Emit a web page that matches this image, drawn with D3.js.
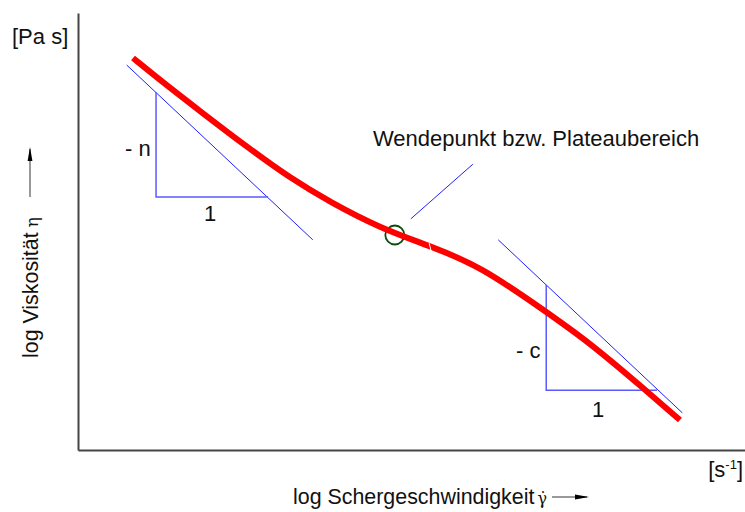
<!DOCTYPE html>
<html><head><meta charset="utf-8">
<script src="https://cdn.jsdelivr.net/npm/d3@7"></script>
<style>
html,body{margin:0;padding:0;background:#fff;}
svg{display:block;}
text{font-family:"Liberation Sans",Arial,Helvetica,sans-serif;fill:#111;}
</style></head>
<body><svg id="c" width="745" height="512"></svg>
<script>
// Curve: log shear rate (x) vs log viscosity (y), arbitrary log units
const logShear = [0.825, 1.304, 1.829, 2.534, 3.178, 3.778, 4.528, 5.277, 6.027, 7.001, 7.676, 8.471, 9.025];
const logVisc  = [8.970, 8.375, 7.757, 6.934, 6.224, 5.675, 5.080, 4.668, 4.211, 3.181, 2.449, 1.419, 0.686];
// Tangent 1 (slope -n) and its triangle
const tan1X = [0.73, 3.52], tan1Y = [8.81, 4.81];
const tri1X = [1.17, 1.17, 2.85], tri1Y = [8.19, 5.79, 5.79];
// Tangent 2 (slope -c) and its triangle
const tan2X = [6.30, 9.06], tan2Y = [4.81, 0.85];
const tri2X = [7.02, 7.02, 8.68], tri2Y = [3.78, 1.37, 1.37];
// Inflection point and annotation leader
const inflX = 4.75, inflY = 4.92;
const leadX = [4.99, 5.92], leadY = [5.29, 6.54];
const gapX = 5.28, gapY = 4.64;

const svg = d3.select("#c");
const x = d3.scaleLinear().domain([0, 10]).range([78, 745]);
const y = d3.scaleLinear().domain([0, 10]).range([450, 13]);
const FS = 22;

// axes
const xAxis = d3.axisBottom(x).tickValues([]).tickSizeOuter(0);
const yAxis = d3.axisLeft(y).tickValues([]).tickSizeOuter(0);
const gx = svg.append("g").attr("transform","translate(0,450)").call(xAxis);
const gy = svg.append("g").attr("transform","translate(78,0)").call(yAxis);
[gx, gy].forEach(g => g.select(".domain").attr("stroke","#444").attr("stroke-width",2));

const line = d3.line().x(d => x(d[0])).y(d => y(d[1]));
const zip = (a, b) => a.map((v, i) => [v, b[i]]);

// tangents
svg.append("path").attr("d", line(zip(tan1X, tan1Y))).attr("stroke","#2020ff").attr("stroke-width",1).attr("fill","none");
svg.append("path").attr("d", line(zip(tan2X, tan2Y))).attr("stroke","#2020ff").attr("stroke-width",1).attr("fill","none");
// triangles
svg.append("path").attr("d", line(zip(tri1X, tri1Y))).attr("stroke","#5a5aff").attr("stroke-width",1.5).attr("fill","none");
svg.append("path").attr("d", line(zip(tri2X, tri2Y))).attr("stroke","#5a5aff").attr("stroke-width",1.5).attr("fill","none");
// leader line
svg.append("path").attr("d", line(zip(leadX, leadY))).attr("stroke","#2020ff").attr("stroke-width",1).attr("fill","none");

// circle
svg.append("circle").attr("cx", x(inflX)).attr("cy", y(inflY)).attr("r", 9.5)
  .attr("fill","none").attr("stroke","#0b4d0b").attr("stroke-width",1.8);

// red curve
const curve = d3.line().x(d => x(d[0])).y(d => y(d[1])).curve(d3.curveBasis);
svg.append("path").attr("d", curve(zip(logShear, logVisc)))
  .attr("stroke","#ff0000").attr("stroke-width",6).attr("fill","none").attr("stroke-linecap","butt");
// small white gap
svg.append("line").attr("x1", x(gapX)-1).attr("y1", y(gapY)-4).attr("x2", x(gapX)+1).attr("y2", y(gapY)+4)
  .attr("stroke","#fff").attr("stroke-width",1);

// texts
svg.append("text").attr("x",12).attr("y",44).attr("font-size",FS).text("[Pa s]");
svg.append("text").attr("x",373).attr("y",146).attr("font-size",FS).text("Wendepunkt bzw. Plateaubereich");
svg.append("text").attr("x",125).attr("y",156).attr("font-size",FS).text("- n");
svg.append("text").attr("x",204).attr("y",221).attr("font-size",FS).text("1");
svg.append("text").attr("x",516).attr("y",358).attr("font-size",FS).text("- c");
svg.append("text").attr("x",592).attr("y",417).attr("font-size",FS).text("1");
const s1 = svg.append("text").attr("x",743).attr("y",477).attr("text-anchor","end").attr("font-size",FS);
s1.append("tspan").text("[s");
s1.append("tspan").attr("font-size",13).attr("dy",-8).text("-1");
s1.append("tspan").attr("dy",8).text("]");

// x label
const xl = svg.append("text").attr("x",293).attr("y",504).attr("font-size",21.4);
xl.append("tspan").text("log Schergeschwindigkeit");
xl.append("tspan").attr("dx",3).attr("font-family","DejaVu Serif, serif").attr("font-size",16).text("γ̇");

// y label (rotated)
const yl = svg.append("text").attr("transform","translate(38,358) rotate(-90)").attr("font-size",21.4);
yl.append("tspan").text("log Viskosität");
yl.append("tspan").attr("dx",5).attr("font-family","DejaVu Serif, serif").attr("font-size",17).text("η");

// arrows
const defs = svg.append("defs");
defs.append("marker").attr("id","ah").attr("viewBox","0 0 14 6").attr("refX",12).attr("refY",3)
  .attr("markerWidth",14).attr("markerHeight",6).attr("markerUnits","userSpaceOnUse").attr("orient","auto")
  .append("path").attr("d","M0,0.6 L14,3 L0,5.4 z").attr("fill","#000");
svg.append("line").attr("x1",552).attr("y1",497).attr("x2",587).attr("y2",497)
  .attr("stroke","#777").attr("stroke-width",1.5).attr("marker-end","url(#ah)");
svg.append("line").attr("x1",30).attr("y1",197).attr("x2",30).attr("y2",149)
  .attr("stroke","#777").attr("stroke-width",1.5).attr("marker-end","url(#ah)");
</script></body></html>
